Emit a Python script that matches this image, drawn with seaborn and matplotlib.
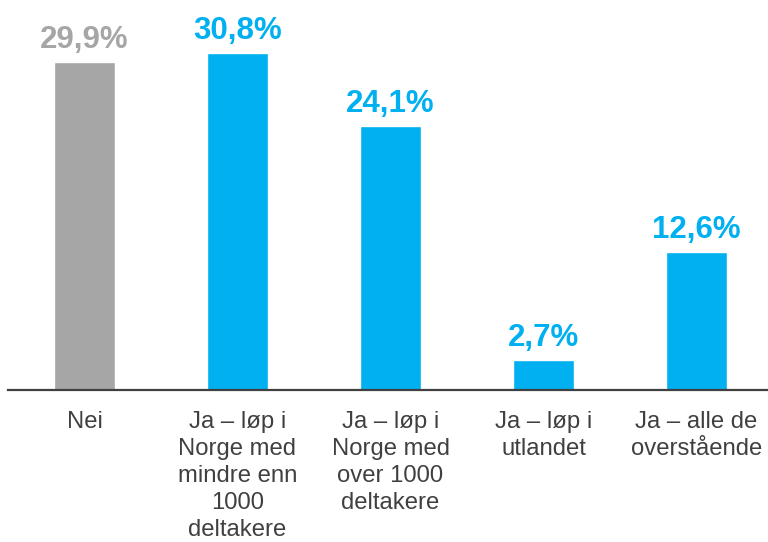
import seaborn as sns
import matplotlib.pyplot as plt
import pandas as pd

# data
categories = ["Nei",
              "Ja – løp i\nNorge med\nmindre enn\n1000\ndeltakere",
              "Ja – løp i\nNorge med\nover 1000\ndeltakere",
              "Ja – løp i\nutlandet",
              "Ja – alle de\noverstående"]
values = [29.9, 30.8, 24.1, 2.7, 12.6]
labels = ["29,9%", "30,8%", "24,1%", "2,7%", "12,6%"]
colors = ["#A6A6A6", "#00B0F0", "#00B0F0", "#00B0F0", "#00B0F0"]

df = pd.DataFrame({"cat": categories, "val": values})

sns.set_style("white")
plt.rcParams["font.family"] = ["Liberation Sans", "DejaVu Sans"]

fig = plt.figure(figsize=(7.68, 5.42), dpi=100)
ax = fig.add_axes([8 / 768, 152 / 542, 765 / 768, 390 / 542])

sns.barplot(data=df, x="cat", y="val", hue="cat", palette=colors,
            width=0.405, legend=False, ax=ax, saturation=1)

for i, (v, lab) in enumerate(zip(values, labels)):
    ax.annotate(lab, (i, v), xytext=(0, 5), textcoords="offset points",
                ha="center", va="bottom", fontsize=22.5, fontweight="bold",
                color=colors[i])

ax.set_xlim(-0.5, 4.5)
ax.set_ylim(0, 35.6)
ax.set_xlabel("")
ax.set_ylabel("")
ax.set_yticks([])
ax.tick_params(axis="x", length=0, pad=15, labelsize=17.2, labelcolor="#404040")
for t in ax.get_xticklabels():
    t.set_linespacing(1.3)
for s in ["top", "right", "left"]:
    ax.spines[s].set_visible(False)
ax.spines["bottom"].set_color("#404040")
ax.spines["bottom"].set_linewidth(1.6)

fig.savefig("out.png", dpi=100)
